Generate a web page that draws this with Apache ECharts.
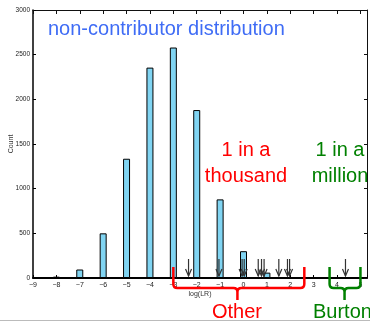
<!DOCTYPE html>
<html>
<head>
<meta charset="utf-8">
<script src="https://cdn.jsdelivr.net/npm/echarts@6/dist/echarts.min.js"></script>
<style>html,body{margin:0;padding:0;background:#fff}#c{width:370px;height:322px}</style>
</head>
<body>
<div id="c"></div>
<script>
const binCenters = [-8, -7, -6, -5, -4, -3, -2, -1, 0, 1];
const counts = [15, 95, 500, 1335, 2355, 2580, 1880, 880, 300, 60];
const arrowPositions = [-2.35, -1.05, -0.06, 0.03, 0.63, 0.77, 0.88, 1.51, 1.88, 1.97, 4.36];
const braceOther = [-3.0, 2.6, -0.26];
const braceBurton = [3.68, 5.0, 4.32];

const chart = echarts.init(document.getElementById('c'), null, {renderer: 'canvas'});
const FONT = 'Liberation Sans';
const fmtX = v => Number.isInteger(v) ? String(v).replace('-', '\u2212') : '';
const fmtY = v => String(v);

const braceItem = color => function (params, api) {
  const a = api.coord([api.value(0), 0]);
  const b = api.coord([api.value(1), 0]);
  const c = api.coord([api.value(2), 0]);
  const base = a[1];
  const top = base - 11, mid = base + 10, bot = base + 22, r = 4;
  const d = `M${a[0]},${top} L${a[0]},${mid - r} Q${a[0]},${mid} ${a[0] + r},${mid} L${c[0] - r},${mid} Q${c[0]},${mid} ${c[0]},${mid + r} L${c[0]},${bot} ` +
            `M${b[0]},${top} L${b[0]},${mid - r} Q${b[0]},${mid} ${b[0] - r},${mid} L${c[0] + r},${mid} Q${c[0]},${mid} ${c[0]},${mid + r}`;
  return {type: 'path', shape: {pathData: d}, style: {stroke: color, lineWidth: 2.5, fill: null}};
};

chart.setOption({
  animation: false,
  grid: {left: 33, right: 3, top: 10, bottom: 44, containLabel: false, outerBoundsMode: 'none'},
  xAxis: [{
    type: 'value', min: -9, max: 5.28, interval: 1, position: 'bottom',
    name: 'log(LR)', nameLocation: 'middle', nameGap: 13, nameMoveOverlap: false,
    nameTextStyle: {fontSize: 7, color: '#333', fontFamily: FONT},
    axisLine: {show: true, onZero: false, lineStyle: {color: '#000', width: 2}},
    axisTick: {show: true, inside: true, length: 3, lineStyle: {color: '#000'}},
    axisLabel: {fontSize: 7, color: '#222', margin: 4, fontFamily: FONT, formatter: fmtX},
    splitLine: {show: false}
  }, {
    type: 'value', min: -9, max: 5.28, interval: 1, position: 'top',
    axisLine: {show: true, onZero: false, lineStyle: {color: '#111', width: 1}},
    axisTick: {show: true, inside: true, length: 4, lineStyle: {color: '#111'}},
    axisLabel: {show: false}, splitLine: {show: false}
  }],
  yAxis: [{
    type: 'value', min: 0, max: 3000, interval: 500, position: 'left',
    name: 'Count', nameLocation: 'middle', nameGap: 18, nameRotate: 90, nameMoveOverlap: false,
    nameTextStyle: {fontSize: 7, color: '#333', fontFamily: FONT},
    axisLine: {show: true, onZero: false, lineStyle: {color: '#000', width: 1.5}},
    axisTick: {show: true, inside: true, length: 3, lineStyle: {color: '#000'}},
    axisLabel: {fontSize: 6.5, color: '#222', margin: 3, fontFamily: FONT, formatter: fmtY},
    splitLine: {show: false}
  }, {
    type: 'value', min: 0, max: 3000, interval: 500, position: 'right',
    axisLine: {show: true, onZero: false, lineStyle: {color: '#111', width: 1}},
    axisTick: {show: true, inside: true, length: 3, lineStyle: {color: '#111'}},
    axisLabel: {show: false}, splitLine: {show: false}
  }],
  series: [{
    type: 'bar',
    data: binCenters.map((x, i) => [x, counts[i]]),
    barWidth: 7,
    itemStyle: {color: '#80d4f2', borderColor: '#000', borderWidth: 1},
    z: 2
  }, {
    type: 'custom',
    data: arrowPositions.map(x => [x]),
    clip: false,
    z: 3,
    renderItem: function (params, api) {
      const p = api.coord([api.value(0), 0]);
      const tipY = p[1] - 2, topY = p[1] - 19;
      return {type: 'group', children: [
        {type: 'line', shape: {x1: p[0], y1: topY, x2: p[0], y2: tipY}, style: {stroke: '#333', lineWidth: 1.2}},
        {type: 'polyline', shape: {points: [[p[0] - 3, tipY - 7], [p[0], tipY], [p[0] + 3, tipY - 7]]}, style: {stroke: '#333', lineWidth: 1.2, fill: null}}
      ]};
    }
  }, {
    type: 'custom', data: [braceOther], clip: false, z: 4,
    renderItem: braceItem('#ff0000')
  }, {
    type: 'custom', data: [braceBurton], clip: false, z: 4,
    renderItem: braceItem('#008000')
  }],
  graphic: [
    {type: 'text', left: 48, top: 19, style: {text: 'non-contributor distribution', fontSize: 20, fontFamily: FONT, fill: '#3f6cf5'}},
    {type: 'text', x: 246, y: 137, style: {text: '1 in a\nthousand', fontSize: 20, lineHeight: 26.5, fontFamily: FONT, fill: '#ff0000', align: 'center'}},
    {type: 'text', x: 340, y: 137, style: {text: '1 in a\nmillion', fontSize: 20, lineHeight: 26.5, fontFamily: FONT, fill: '#008000', align: 'center'}},
    {type: 'text', x: 237, y: 302, style: {text: 'Other', fontSize: 20, fontFamily: FONT, fill: '#ff0000', align: 'center'}},
    {type: 'text', x: 313, y: 302, style: {text: 'Burton', fontSize: 20, fontFamily: FONT, fill: '#008000', align: 'left'}},
    {type: 'line', shape: {x1: 0, y1: 320.5, x2: 370, y2: 320.5}, style: {stroke: '#bbb', lineWidth: 1}, z: 10}
  ]
});
</script>
</body>
</html>
